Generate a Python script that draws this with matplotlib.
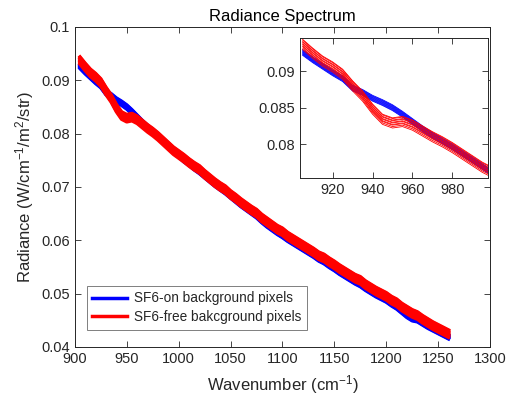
import numpy as np
import matplotlib
matplotlib.use("Agg")
import matplotlib.pyplot as plt

plt.rcParams['font.family'] = ['Liberation Sans', 'DejaVu Sans']
plt.rcParams['mathtext.default'] = 'regular'

# sample grid (cm^-1)
wn = np.arange(905, 1265, 5)

# mean radiance of SF6-free background pixels (red)
red_mean = [
    0.0937, 0.0925, 0.0914, 0.0906, 0.0896, 0.0880, 0.0866, 0.0848, 0.0834, 0.0829,
    0.0831, 0.0826, 0.0818, 0.0810, 0.0803, 0.0795, 0.0786, 0.0777, 0.0768, 0.0761,
    0.0754, 0.0746, 0.0739, 0.0733, 0.0724, 0.0716, 0.0708, 0.0701, 0.0695, 0.0686,
    0.0679, 0.0671, 0.0664, 0.0657, 0.0651, 0.0642, 0.0635, 0.0628, 0.0621, 0.0616,
    0.0608, 0.0602, 0.0596, 0.0590, 0.0584, 0.0578, 0.0571, 0.0567, 0.0560, 0.0554,
    0.0547, 0.0541, 0.0535, 0.0529, 0.0525, 0.0517, 0.0511, 0.0505, 0.0500, 0.0495,
    0.0488, 0.0483, 0.0475, 0.0469, 0.0463, 0.0459, 0.0452, 0.0446, 0.0440, 0.0435,
    0.0430, 0.0425,
]

# mean radiance of SF6-on background pixels (blue)
blue_mean = [
    0.0926, 0.0916, 0.0907, 0.0898, 0.0890, 0.0877, 0.0871, 0.0863, 0.0857, 0.0850,
    0.0841, 0.0831, 0.0821, 0.0812, 0.0804, 0.0796, 0.0787, 0.0778, 0.0769, 0.0760,
    0.0751, 0.0744, 0.0736, 0.0729, 0.0721, 0.0713, 0.0705, 0.0698, 0.0691, 0.0683,
    0.0675, 0.0667, 0.0660, 0.0653, 0.0646, 0.0637, 0.0629, 0.0622, 0.0615, 0.0609,
    0.0602, 0.0596, 0.0590, 0.0584, 0.0578, 0.0572, 0.0565, 0.0560, 0.0553, 0.0547,
    0.0540, 0.0534, 0.0528, 0.0522, 0.0517, 0.0510, 0.0504, 0.0498, 0.0493, 0.0488,
    0.0481, 0.0475, 0.0467, 0.0459, 0.0453, 0.0451, 0.0445, 0.0439, 0.0434, 0.0429,
    0.0424, 0.0419,
]

# per-pixel offsets from the group mean
red_offsets = [-0.0007, -0.0005, -0.0003, -0.0002, 0.0, 0.0001, 0.0003, 0.0004, 0.0006, 0.0007]
blue_offsets = [-0.0004, -0.0003, -0.0002, -0.0001, 0.0, 0.0001, 0.0002, 0.0003, 0.0004]

red_mean = np.array(red_mean)
blue_mean = np.array(blue_mean)

txt = '#262626'

fig = plt.figure(figsize=(5.16, 4.01), dpi=100)
ax = fig.add_axes([0.1450, 0.1347, 0.8047, 0.7980])

for o in blue_offsets:
    ax.plot(wn, blue_mean + o, color='b', lw=2.4)
for o in red_offsets:
    ax.plot(wn, red_mean + o, color='r', lw=2.4)

ax.set_xlim(900, 1300)
ax.set_ylim(0.04, 0.1)
ax.set_xticks(range(900, 1301, 50))
ax.set_yticks([0.04, 0.05, 0.06, 0.07, 0.08, 0.09, 0.1])
ax.set_yticklabels(['0.04', '0.05', '0.06', '0.07', '0.08', '0.09', '0.1'])
ax.set_xlabel('Wavenumber (cm$^{-1}$)', fontsize=12, color=txt, labelpad=5)
ax.set_ylabel('Radiance (W/cm$^{-1}$/m$^{2}$/str)', fontsize=12, color=txt, labelpad=4)
ax.set_title('Radiance Spectrum', fontsize=12, color='k', pad=4)

ax.tick_params(direction='in', top=True, right=True, length=4, width=0.6,
               labelsize=10.5, colors=txt)
for s in ax.spines.values():
    s.set_color(txt)
    s.set_linewidth(0.7)

hb, = ax.plot([], [], color='b', lw=2.5)
hr, = ax.plot([], [], color='r', lw=2.5)
leg = ax.legend([hb, hr], ['SF6-on background pixels', 'SF6-free bakcground pixels'],
                loc='lower left', bbox_to_anchor=(0.012, 0.033), fontsize=9.8,
                handlelength=2.6, fancybox=False, framealpha=1,
                borderpad=0.4, labelspacing=0.35, handletextpad=0.5)
leg.get_frame().set_edgecolor('#7f7f7f')
leg.get_frame().set_linewidth(0.7)
for t in leg.get_texts():
    t.set_color(txt)

# zoomed inset
ins = fig.add_axes([0.5808, 0.5561, 0.3643, 0.3484])
for o in blue_offsets:
    ins.plot(wn, blue_mean + o, color='b', lw=0.6)
for o in red_offsets:
    ins.plot(wn, red_mean + o, color='r', lw=0.6)
ins.set_xlim(903.5, 997.7)
ins.set_ylim(0.07532, 0.09455)
ins.set_xticks([920, 940, 960, 980])
ins.set_yticks([0.08, 0.085, 0.09])
ins.set_yticklabels(['0.08', '0.085', '0.09'])
ins.tick_params(direction='in', top=True, right=True, length=4, width=0.6,
                labelsize=10.5, colors=txt)
for s in ins.spines.values():
    s.set_color(txt)
    s.set_linewidth(0.7)

fig.savefig('out.png', dpi=100)
